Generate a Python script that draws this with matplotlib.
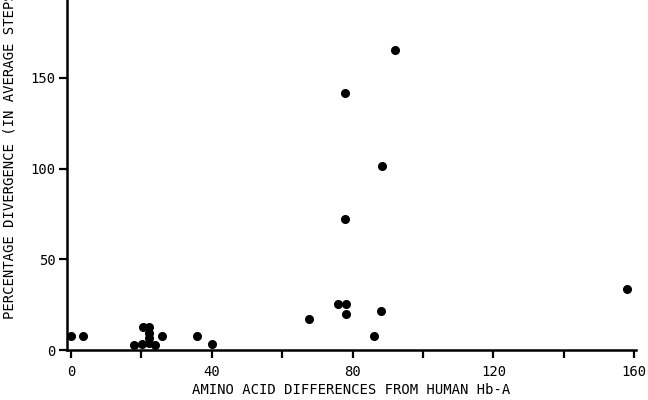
import matplotlib
matplotlib.use("Agg")
import matplotlib.pyplot as plt

plt.rcParams['font.family'] = ['DejaVu Sans Mono']

# amino acid differences vs percentage divergence
aa_diff = [0, 3.5, 18, 20.4, 22.1, 20.2, 22.1, 22.1, 22.1, 23.9, 25.9, 35.7, 40.1,
           67.6, 75.9, 78.2, 78.0, 77.8, 77.8, 88.0, 86.2, 88.4, 92.1, 157.9]
divergence = [7.5, 7.5, 2.5, 12.5, 12.5, 3.5, 9.5, 6.5, 4.0, 2.5, 7.5, 7.5, 3.5,
              17, 25.5, 25.5, 20, 72.5, 141.5, 21.5, 7.5, 101.5, 165.5, 33.5]

xticks = [0, 20, 40, 60, 80, 100, 120, 140, 160]
xtick_labels = ['0', '', '40', '', '80', '', '120', '', '160']
yticks = [0, 50, 100, 150]

fig = plt.figure(figsize=(6.48, 4.0), dpi=100)
ax = fig.add_axes([67 / 648, 50 / 400, (636 - 67) / 648, 350 / 400])

ax.plot(aa_diff, divergence, 'o', color='black', markersize=5.5, clip_on=False)

ax.set_xlim(-1.1, 160.5)
ax.set_ylim(0, 193)
ax.set_xticks(xticks)
ax.set_xticklabels(xtick_labels)
ax.set_yticks(yticks)

for s in ['top', 'right']:
    ax.spines[s].set_visible(False)
for s in ['left', 'bottom']:
    ax.spines[s].set_linewidth(1.8)

ax.tick_params(axis='both', direction='out', length=6, width=1.6, labelsize=10)
ax.tick_params(axis='x', pad=5)
ax.tick_params(axis='y', pad=2)

ax.set_xlabel("AMINO ACID DIFFERENCES FROM HUMAN Hb-A", fontsize=10, labelpad=3)
ax.set_ylabel("PERCENTAGE DIVERGENCE (IN AVERAGE STEPS)", fontsize=10)
ax.yaxis.set_label_coords(-0.088, 0.566)

fig.savefig("out.png", dpi=100)
